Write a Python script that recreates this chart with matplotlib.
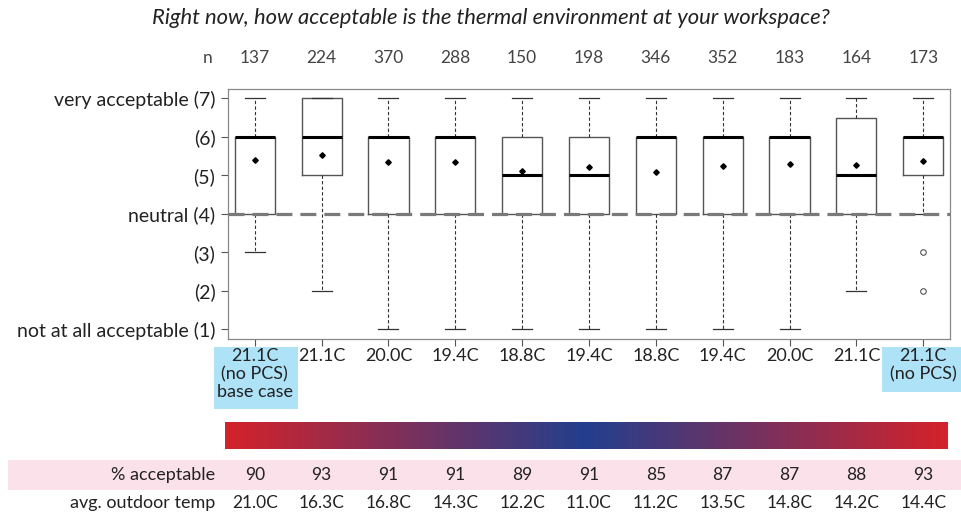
import numpy as np
import matplotlib
matplotlib.use('Agg')
import matplotlib.pyplot as plt
from matplotlib.colors import LinearSegmentedColormap
from matplotlib.patches import Rectangle
import matplotlib.transforms as mtransforms

plt.rcParams['font.family'] = ['Lato', 'DejaVu Sans']

# ---- data ----
n_counts = [137, 224, 370, 288, 150, 198, 346, 352, 183, 164, 173]
setpoints = ['21.1C\n(no PCS)\nbase case', '21.1C', '20.0C', '19.4C', '18.8C', '19.4C',
             '18.8C', '19.4C', '20.0C', '21.1C', '21.1C\n(no PCS)']
whisker_low = [3, 2, 1, 1, 1, 1, 1, 1, 1, 2, 4]
q1 = [4, 5, 4, 4, 4, 4, 4, 4, 4, 4, 5]
medians = [6, 6, 6, 6, 5, 5, 6, 6, 6, 5, 6]
q3 = [6, 7, 6, 6, 6, 6, 6, 6, 6, 6.5, 6]
whisker_high = [7, 7, 7, 7, 7, 7, 7, 7, 7, 7, 7]
means = [5.39, 5.52, 5.34, 5.35, 5.11, 5.22, 5.09, 5.24, 5.30, 5.28, 5.36]
outliers = [[], [], [], [], [], [], [], [], [], [], [3, 2]]
pct_acceptable = [90, 93, 91, 91, 89, 91, 85, 87, 87, 88, 93]
outdoor_temp = ['21.0C', '16.3C', '16.8C', '14.3C', '12.2C', '11.0C', '11.2C',
                '13.5C', '14.8C', '14.2C', '14.4C']
y_ticks = [1, 2, 3, 4, 5, 6, 7]
y_labels = ['not at all acceptable (1)', '(2)', '(3)', 'neutral (4)', '(5)', '(6)',
            'very acceptable (7)']
title = 'Right now, how acceptable is the thermal environment at your workspace?'

W, H = 961, 516
fig = plt.figure(figsize=(W / 100, H / 100), dpi=100)
fig.patch.set_facecolor('white')


def fx(x):
    return x / W


def fy(y):
    return 1 - y / H


# background axes for coloured bands
bg = fig.add_axes([0, 0, 1, 1], zorder=-1)
bg.set_xlim(0, 1)
bg.set_ylim(0, 1)
bg.axis('off')
bg.add_patch(Rectangle((fx(214), fy(409)), (298 - 214) / W, (409 - 347) / H,
                       color='#aee2f7', lw=0))
bg.add_patch(Rectangle((fx(882), fy(392)), (961 - 882) / W, (392 - 347) / H,
                       color='#aee2f7', lw=0))
bg.add_patch(Rectangle((fx(8), fy(490)), (W - 8) / W, 30 / H, color='#fbe1ea', lw=0))

# main axes
ax = fig.add_axes([fx(228), fy(339), (950 - 228) / W, (339 - 89) / H], zorder=1)
positions = np.arange(1, len(n_counts) + 1)
stats = []
for i in range(len(n_counts)):
    stats.append(dict(med=medians[i], q1=q1[i], q3=q3[i], whislo=whisker_low[i],
                      whishi=whisker_high[i], mean=means[i], fliers=outliers[i]))
ax.bxp(stats, positions=positions, widths=0.6, capwidths=0.3, showmeans=True,
       showfliers=True,
       boxprops=dict(color='#555555', lw=1.0),
       whiskerprops=dict(color='#333333', lw=0.8, linestyle=(0, (3, 2))),
       capprops=dict(color='#333333', lw=0.9),
       medianprops=dict(color='black', lw=2.2),
       meanprops=dict(marker='D', markerfacecolor='black', markeredgecolor='black',
                      markersize=2.8),
       flierprops=dict(marker='o', markerfacecolor='none', markeredgecolor='#555555',
                       markersize=4, markeredgewidth=0.8))
ax.axhline(4, color='#7a7a7a', lw=2.3, ls=(0, (5, 2.5)), zorder=6)
ax.set_xlim(0.6, 11.4)
ax.set_ylim(0.75, 7.24)
ax.set_yticks(y_ticks)
ax.set_yticklabels(y_labels, fontsize=14, color='#222222')
ax.set_xticks(positions)
ax.set_xticklabels([])
ax.tick_params(axis='both', length=5, width=0.8, color='#555555', pad=4)
for s in ax.spines.values():
    s.set_color('#888888')
    s.set_linewidth(0.9)

# title
fig.text(fx(491), fy(18), title, ha='center', va='center', fontsize=15.8,
         style='italic', color='#222222')

trans = mtransforms.blended_transform_factory(ax.transData, fig.transFigure)

# n row
fig.text(fx(208), fy(58), 'n', ha='center', va='center', fontsize=12.5, color='#444444')
for p, n in zip(positions, n_counts):
    ax.text(p, fy(58), str(n), transform=trans, ha='center', va='center',
            fontsize=12.5, color='#444444')

# setpoint labels
for p, lab in zip(positions, setpoints):
    ax.text(p, fy(348), lab, transform=trans, ha='center', va='top',
            fontsize=13, color='#222222', linespacing=1.15)

# colour gradient bar
cax = fig.add_axes([fx(225), fy(449), (948 - 225) / W, (449 - 422) / H])
cmap = LinearSegmentedColormap.from_list('rb', ['#d4222a', '#223f8e', '#d4222a'])
grad = np.linspace(0, 1, 512)[None, :]
cax.imshow(grad, aspect='auto', cmap=cmap)
cax.axis('off')

# bottom rows
fig.text(fx(215), fy(475), '% acceptable', ha='right', va='center', fontsize=13,
         color='#222222')
fig.text(fx(215), fy(503), 'avg. outdoor temp', ha='right', va='center', fontsize=13,
         color='#222222')
for p, v, t in zip(positions, pct_acceptable, outdoor_temp):
    ax.text(p, fy(475), str(v), transform=trans, ha='center', va='center',
            fontsize=12.5, color='#222222')
    ax.text(p, fy(503), t, transform=trans, ha='center', va='center',
            fontsize=12.5, color='#222222')

fig.savefig('out.png', dpi=100)
